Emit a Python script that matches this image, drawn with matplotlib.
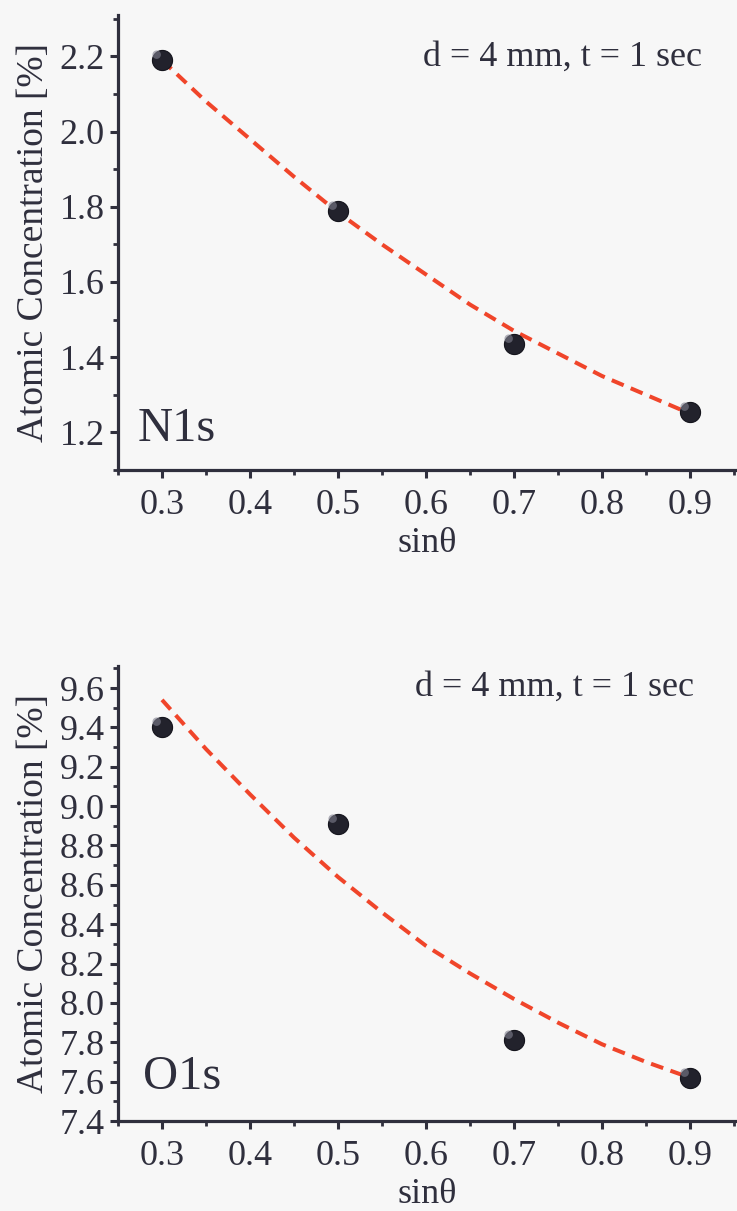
import matplotlib
matplotlib.use("Agg")
import matplotlib.pyplot as plt
from matplotlib.path import Path
from matplotlib.ticker import MultipleLocator

# ---- data ----
sin_theta = [0.3, 0.5, 0.7, 0.9]
n1s_conc = [2.19, 1.79, 1.435, 1.255]
o1s_conc = [9.40, 8.91, 7.81, 7.62]

fit_x = [0.30, 0.35, 0.40, 0.45, 0.50, 0.55, 0.60, 0.65, 0.70, 0.75, 0.80, 0.85, 0.90]
n1s_fit = [2.19, 2.08, 1.98, 1.88, 1.785, 1.70, 1.62, 1.54, 1.47, 1.41, 1.35, 1.30, 1.25]
o1s_fit = [9.54, 9.29, 9.06, 8.84, 8.64, 8.46, 8.29, 8.15, 8.02, 7.90, 7.79, 7.70, 7.62]

xticks = [0.3, 0.4, 0.5, 0.6, 0.7, 0.8, 0.9]
n1s_yticks = [1.2, 1.4, 1.6, 1.8, 2.0, 2.2]
o1s_yticks = [7.4, 7.6, 7.8, 8.0, 8.2, 8.4, 8.6, 8.8, 9.0, 9.2, 9.4, 9.6]

panel_labels = ["N1s", "O1s"]
annotation = "d = 4 mm, t = 1 sec"
xlabel = "sin\u03b8"
ylabel = "Atomic Concentration [%]"

# ---- style ----
bg = "#f7f7f7"
ink = "#2f2f3d"
red = "#f0452a"
plt.rcParams["font.family"] = ["Liberation Serif", "DejaVu Serif"]

W, H = 737, 1211
fig = plt.figure(figsize=(W / 100, H / 100), dpi=100, facecolor=bg)

hl_path = Path.circle(center=(-0.22, 0.22), radius=0.16)


def make_ax(top_px, bot_px, ylim, yticks, conc, fit, label, label_xy):
    left_px, right_px = 118, 737
    ax = fig.add_axes([left_px / W, (H - bot_px) / H,
                       (right_px - left_px) / W, (bot_px - top_px) / H])
    ax.set_facecolor(bg)
    x0 = 0.25
    x1 = x0 + (right_px - left_px) / 880.0
    ax.set_xlim(x0, x1)
    ax.set_ylim(*ylim)
    for s in ["top", "right"]:
        ax.spines[s].set_visible(False)
    for s in ["left", "bottom"]:
        ax.spines[s].set_linewidth(2.3)
        ax.spines[s].set_color(ink)
    ax.set_xticks(xticks)
    ax.set_yticks(yticks)
    ax.xaxis.set_minor_locator(MultipleLocator(0.05))
    ax.yaxis.set_minor_locator(MultipleLocator(0.1))
    ax.tick_params(which="major", direction="out", length=5.5, width=2.2,
                   color=ink, labelsize=26, labelcolor=ink, pad=4)
    ax.tick_params(axis="x", which="major", pad=8)
    ax.tick_params(which="minor", direction="out", length=3.5, width=2.0, color=ink)
    ax.set_xticklabels([f"{v:.1f}" for v in xticks])
    ax.set_yticklabels([f"{v:.1f}" for v in yticks])

    ax.plot(fit_x, fit, color=red, lw=2.9, dashes=(3.2, 1.9), zorder=2,
            solid_capstyle="butt", dash_capstyle="butt")
    ax.plot(sin_theta, conc, "o", ms=14.5, color="#22222c",
            markeredgecolor="#14141c", markeredgewidth=0.8, zorder=3)
    ax.plot(sin_theta, conc, marker=hl_path, ms=14.5, ls="none",
            color="#80808f", markeredgewidth=0, alpha=0.6, zorder=4)

    ax.set_xlabel(xlabel, fontsize=26, color=ink, labelpad=4)
    ax.set_ylabel(ylabel, fontsize=27, color=ink, labelpad=6)
    ax.text(label_xy[0], label_xy[1], label, transform=fig.transFigure,
            fontsize=35, color=ink, ha="left", va="baseline")
    return ax


ax1 = make_ax(15, 470, (1.1, 1.1 + 455 / 376.0), n1s_yticks, n1s_conc, n1s_fit,
              panel_labels[0], (138 / W, 1 - 441 / H))
ax1.text(423 / W, 1 - 66 / H, annotation, transform=fig.transFigure,
         fontsize=26, color=ink, ha="left", va="baseline")

ax2 = make_ax(666, 1121, (7.4, 7.4 + 455 / 196.8), o1s_yticks, o1s_conc, o1s_fit,
              panel_labels[1], (143 / W, 1 - 1089 / H))
ax2.text(415 / W, 1 - 696 / H, annotation, transform=fig.transFigure,
         fontsize=26, color=ink, ha="left", va="baseline")

fig.savefig("out.png", dpi=100, facecolor=bg)
